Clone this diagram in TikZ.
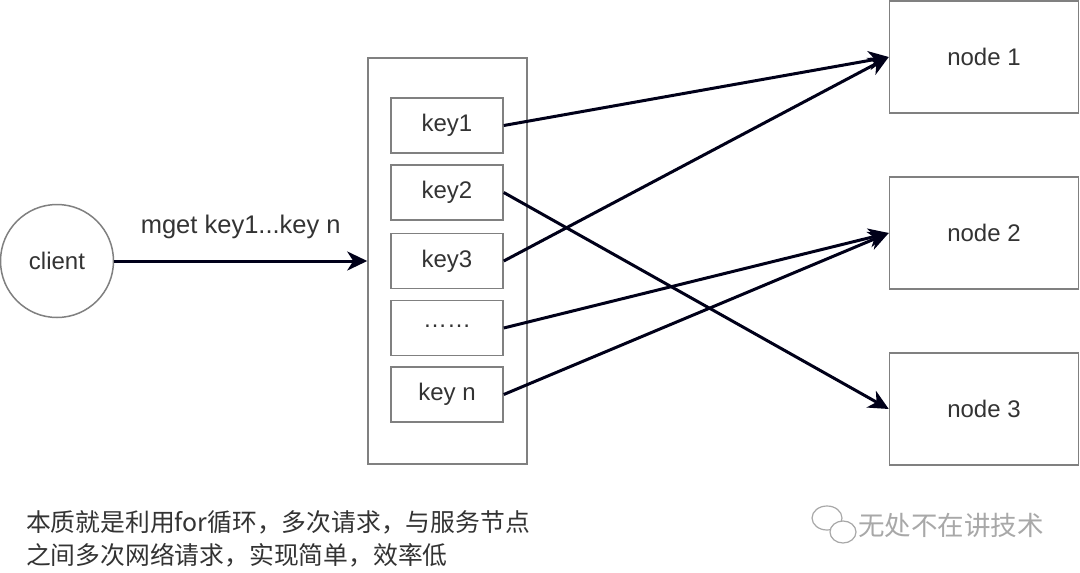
\documentclass[tikz,border=0pt]{standalone}
\usepackage{fontspec}
\setmainfont{Liberation Sans}
\newfontfamily\cjk{Noto Sans CJK SC}
\usetikzlibrary{arrows.meta}
\definecolor{txt}{HTML}{333333}
\definecolor{bord}{HTML}{808080}
\definecolor{wm}{HTML}{A8A8A8}
\begin{document}
\begin{tikzpicture}[x=1pt,y=-1pt,
  box/.style={draw=bord,line width=1.5pt,fill=white,text=txt,font=\fontsize{24}{28}\selectfont,inner sep=0pt},
  keybox/.style={box,minimum width=112pt,minimum height=55pt},
  srvbox/.style={box,minimum width=189pt,minimum height=112pt},
  conn/.style={line width=3pt,draw=black!90!blue,-{Stealth[length=20pt,width=19pt,inset=6pt]}}]
\useasboundingbox (0,0) rectangle (1080,573);
\fill[white] (0,0) rectangle (1080,573);
% client
\node[box,circle,minimum size=113pt] (client) at (57,261) {client};
% container
\node[draw=bord,line width=1.5pt,minimum width=159pt,minimum height=406pt,inner sep=0pt] (cont) at (447.5,261) {};
\node[keybox] (k1) at (447,125.5) {key1};
\node[keybox] (k2) at (447,192.5) {key2};
\node[keybox] (k3) at (447,261) {key3};
\node[keybox] (kd) at (447,328) {\raisebox{3pt}{……}};
\node[keybox] (kn) at (447,394.5) {key n};
% servers
\node[srvbox] (n1) at (984,57) {node 1};
\node[srvbox] (n2) at (984,233) {node 2};
\node[srvbox] (n3) at (984,409) {node 3};
% arrows
\draw[conn] (client) -- node[above=21pt,text=txt,font=\fontsize{25.5}{30}\selectfont,inner sep=0pt] (lbl) {mget key1...key n} (cont.west |- client);
\draw[conn] (k1.east) -- (n1.west);
\draw[conn] (k3.east) -- (n1.west);
\draw[conn] (k2.east) -- (n3.west);
\draw[conn] (kd.east) -- (n2.west);
\draw[conn] (kn.east) -- (n2.west);
% caption
\node[anchor=west,text=txt,font=\cjk\fontsize{24.8}{28}\selectfont,inner sep=0pt] (c1) at (26,522) {本质就是利用for循环，多次请求，与服务节点};
\node[anchor=west,text=txt,font=\cjk\fontsize{24.8}{28}\selectfont,inner sep=0pt] (c2) at (26,555) {之间多次网络请求，实现简单，效率低};
% watermark
\draw[wm,line width=1.2pt,fill=white] (827,518) ellipse (15pt and 12pt);
\draw[wm,line width=1.2pt,fill=white] (843,532) ellipse (13pt and 11pt);
\node[anchor=west,text=wm,font=\cjk\fontsize{26.5}{30}\selectfont,inner sep=0pt] (wmt) at (858,525) {无处不在讲技术};
\end{tikzpicture}
\end{document}
